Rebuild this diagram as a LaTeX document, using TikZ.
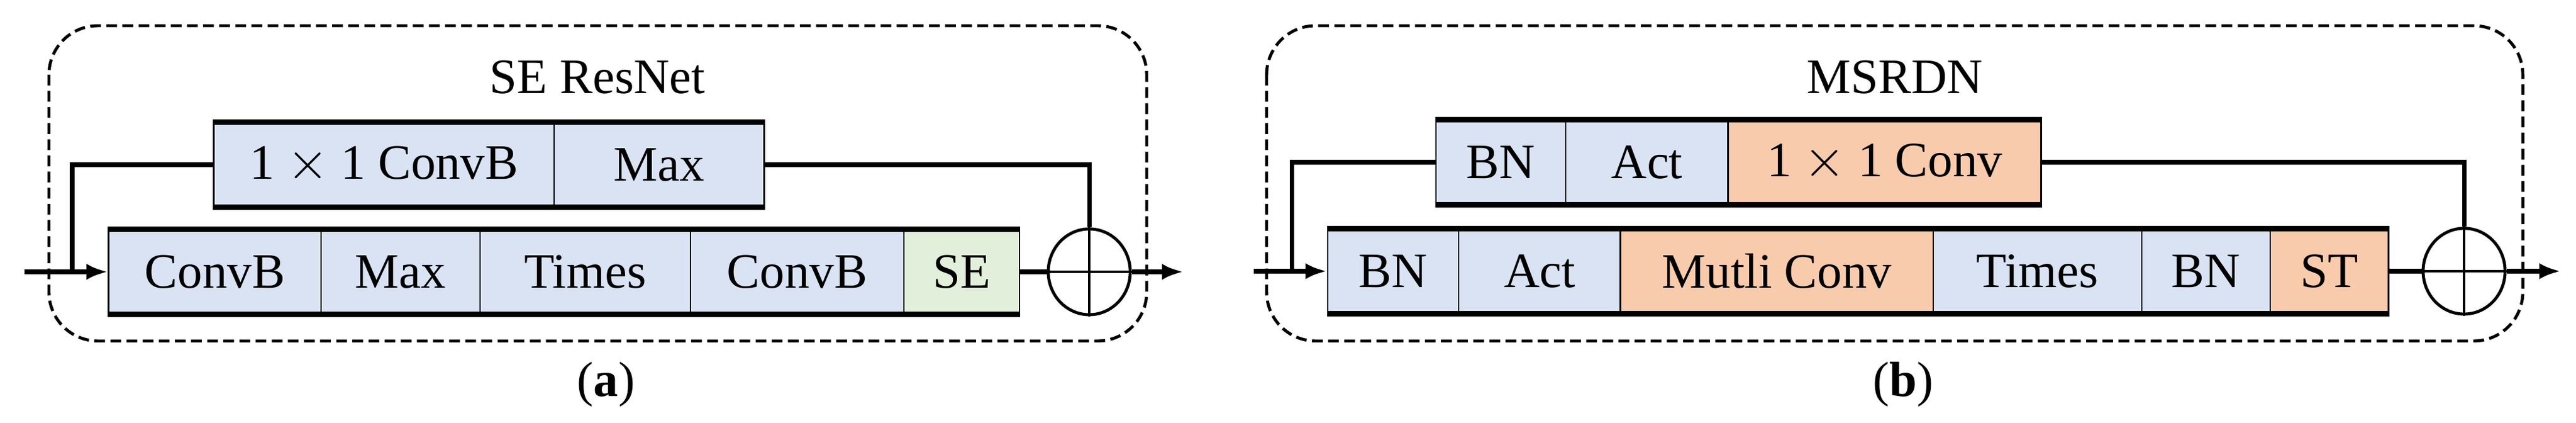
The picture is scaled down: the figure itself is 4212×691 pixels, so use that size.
\documentclass[tikz,border=0pt]{standalone}
\usepackage{fontspec}
\setmainfont{Liberation Serif}
\usetikzlibrary{arrows.meta,shapes.geometric}

\definecolor{blueb}{HTML}{DAE3F3}
\definecolor{greenb}{HTML}{E2EFDA}
\definecolor{orangeb}{HTML}{F8CBAD}

\tikzset{
  blk/.style={draw, line width=0.8pt, inner sep=0pt, minimum height=1.36cm,
    font=\fontsize{23}{27}\selectfont},
  wire/.style={line width=2pt},
  frame/.style={draw, dash pattern=on 5pt off 2.5pt, line width=1.4pt, rounded corners=0.8cm},
  plus/.style={draw, line width=1.4pt, ellipse, minimum width=1.34cm, minimum height=1.40cm, inner sep=0pt},
  txt/.style={font=\fontsize{23}{27}\selectfont}
}

\begin{document}
\begin{tikzpicture}[x=0.01cm,y=-0.01cm]
  \useasboundingbox (0,0) rectangle (4212,691);

  % (a) SE ResNet
  \draw[frame] (80,42) rectangle (1875,557);
  \node[txt] (ta) at (977,126) {SE ResNet};

  % top branch
  \node[blk, fill=blueb, minimum width=5.56cm] (ca) at (628,269) {1 $\times$ 1 ConvB};
  \node[blk, fill=blueb, minimum width=3.43cm] (ma) at (1077.5,269) {Max};
  % main row
  \node[blk, fill=blueb, minimum width=3.47cm] (a1) at (351.5,444) {ConvB};
  \node[blk, fill=blueb, minimum width=2.60cm] (a2) at (655,444) {Max};
  \node[blk, fill=blueb, minimum width=3.44cm] (a3) at (957,444) {Times};
  \node[blk, fill=blueb, minimum width=3.49cm] (a4) at (1303.5,444) {ConvB};
  \node[blk, fill=greenb, minimum width=1.89cm] (a5) at (1572.5,444) {SE};
  \node[plus] (pa) at (1781,444) {};
  \draw[line width=1.2pt] (pa.north) -- (pa.south);
  \draw[line width=1.2pt] (pa.west) -- (pa.east);

  \draw[line width=2.4pt] (ca.north west) -- (ma.north east);
  \draw[line width=2.4pt] (ca.south west) -- (ma.south east);
  \draw[line width=2.4pt] (a1.north west) -- (a5.north east);
  \draw[line width=2.4pt] (a1.south west) -- (a5.south east);

  \coordinate (ina) at (40,444);
  \coordinate (outa) at (1935,444);
  \coordinate (ka) at (118,444);
  \draw[wire, -{Latex[length=0.35cm]}] (ina) -- (a1.west);
  \draw[wire] (ka) |- (ca.west);
  \draw[wire] (ma.east) -| (pa.north);
  \draw[wire] (a5.east) -- (pa.west);
  \draw[wire, -{Latex[length=0.35cm]}] (pa.east) -- (outa);
  \node[txt] (la) at (991,628) {(\textbf{a})};

  % (b) MSRDN
  \draw[frame] (2071,42) rectangle (4125,557);
  \node[txt] (tb) at (3098,126) {MSRDN};

  % top branch
  \node[blk, fill=blueb, minimum width=2.12cm] (b1) at (2454,265) {BN};
  \node[blk, fill=blueb, minimum width=2.66cm] (b2) at (2693,265) {Act};
  \node[blk, fill=orangeb, minimum width=5.11cm] (b3) at (3081.5,265) {1 $\times$ 1 Conv};
  % main row
  \node[blk, fill=blueb, minimum width=2.14cm] (r1) at (2278,443) {BN};
  \node[blk, fill=blueb, minimum width=2.65cm] (r2) at (2517.5,443) {Act};
  \node[blk, fill=orangeb, minimum width=5.11cm] (r3) at (2905.5,443) {Mutli Conv};
  \node[blk, fill=blueb, minimum width=3.41cm] (r4) at (3331.5,443) {Times};
  \node[blk, fill=blueb, minimum width=2.10cm] (r5) at (3607,443) {BN};
  \node[blk, fill=orangeb, minimum width=1.93cm] (r6) at (3808.5,443) {ST};
  \node[plus] (pb) at (4029,443) {};
  \draw[line width=1.2pt] (pb.north) -- (pb.south);
  \draw[line width=1.2pt] (pb.west) -- (pb.east);

  \draw[line width=2.4pt] (b1.north west) -- (b3.north east);
  \draw[line width=2.4pt] (b1.south west) -- (b3.south east);
  \draw[line width=2.4pt] (r1.north west) -- (r6.north east);
  \draw[line width=2.4pt] (r1.south west) -- (r6.south east);

  \coordinate (inb) at (2050,443);
  \coordinate (outb) at (4187,443);
  \coordinate (kb) at (2112,443);
  \draw[wire, -{Latex[length=0.35cm]}] (inb) -- (r1.west);
  \draw[wire] (kb) |- (b1.west);
  \draw[wire] (b3.east) -| (pb.north);
  \draw[wire] (r6.east) -- (pb.west);
  \draw[wire, -{Latex[length=0.35cm]}] (pb.east) -- (outb);
  \node[txt] (lb) at (3112,628) {(\textbf{b})};
\end{tikzpicture}
\end{document}
